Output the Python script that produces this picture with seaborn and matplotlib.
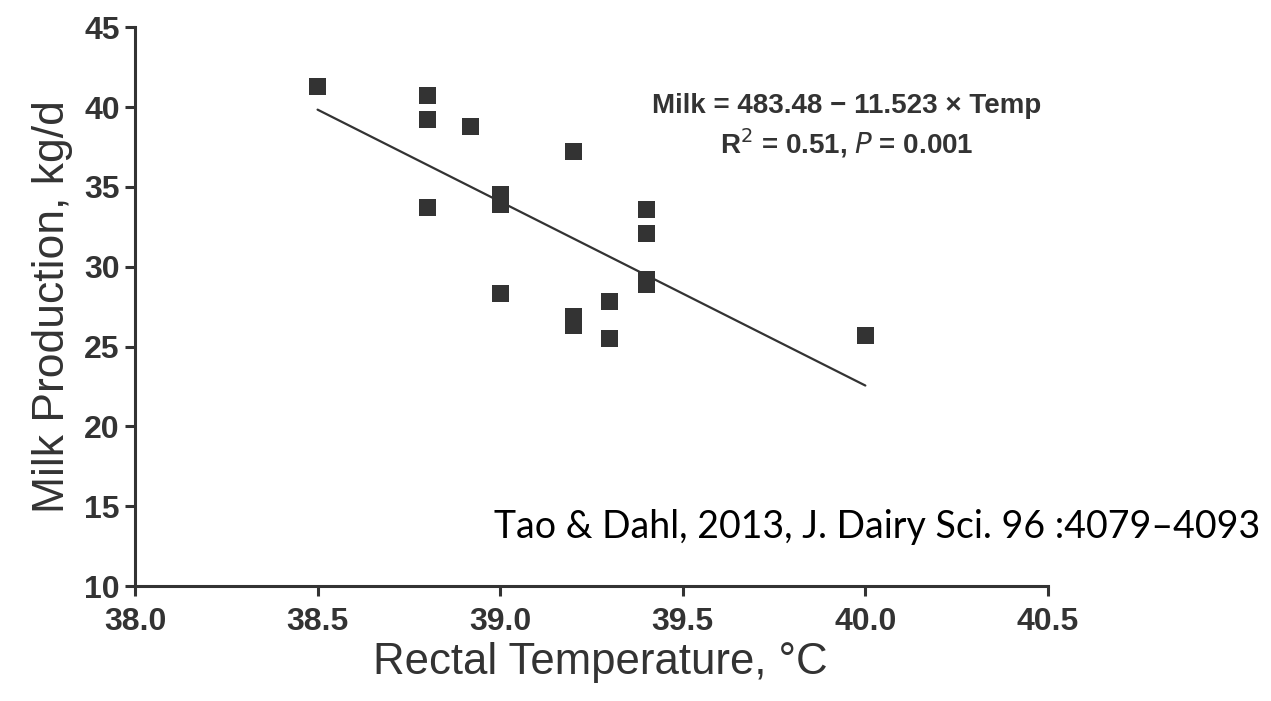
import numpy as np
import pandas as pd
import matplotlib
matplotlib.use("Agg")
import matplotlib.pyplot as plt
import seaborn as sns

# datos
rectal_temp = [38.5, 38.8, 38.8, 38.8, 38.92, 39.0, 39.0, 39.0, 39.2, 39.2,
               39.2, 39.3, 39.3, 39.4, 39.4, 39.4, 39.4, 40.0]
milk_prod = [41.3, 40.7, 39.2, 33.7, 38.8, 34.5, 33.9, 28.3, 37.2, 26.9,
             26.3, 27.8, 25.5, 33.6, 32.1, 29.2, 28.9, 25.7]

# recta de regresion publicada
intercepto = 483.48
pendiente = -11.523

x_ticks = [38.0, 38.5, 39.0, 39.5, 40.0, 40.5]
y_ticks = [10, 15, 20, 25, 30, 35, 40, 45]

gris = "#333333"

sns.set_style("ticks")
plt.rcParams['font.family'] = ['Liberation Sans', 'DejaVu Sans']

df = pd.DataFrame({"temp": rectal_temp, "milk": milk_prod})
t_linea = np.array([min(rectal_temp), max(rectal_temp)])
linea = pd.DataFrame({"temp": t_linea, "milk": intercepto + pendiente * t_linea})

fig = plt.figure(figsize=(12.71, 7.01), dpi=100)
ax = fig.add_axes([0.1062, 0.164, 0.7183, 0.797])

sns.lineplot(data=linea, x="temp", y="milk", color=gris, linewidth=1.6, ax=ax)
sns.scatterplot(data=df, x="temp", y="milk", marker="s", s=150, color=gris,
                edgecolor="none", ax=ax, zorder=3)

ax.set_xlim(38.0, 40.5)
ax.set_ylim(10, 45)
ax.set_xticks(x_ticks)
ax.set_xticklabels([f"{t:.1f}" for t in x_ticks])
ax.set_yticks(y_ticks)
ax.tick_params(axis="both", labelsize=23, colors=gris, width=2.2, length=7,
               direction="out", pad=4)
ax.tick_params(axis="x", pad=8)
for lab in ax.get_xticklabels() + ax.get_yticklabels():
    lab.set_fontweight("bold")
    lab.set_color(gris)

sns.despine(ax=ax)
for lado in ["left", "bottom"]:
    ax.spines[lado].set_linewidth(2.2)
    ax.spines[lado].set_color(gris)

ax.set_xlabel("Rectal Temperature, °C", fontsize=31.5, color=gris, labelpad=12)
ax.xaxis.set_label_coords(0.51, -0.10)
ax.xaxis.label.set_va("top")
ax.set_ylabel("Milk Production, kg/d", fontsize=32, color=gris, labelpad=8)

ax.text(39.95, 40.05, "Milk = 483.48 − 11.523 × Temp", fontsize=20,
        fontweight="bold", color=gris, ha="center", va="center")
ax.text(39.95, 37.75, "R$^2$ = 0.51, $\\it{P}$ = 0.001", fontsize=20,
        fontweight="bold", color=gris, ha="center", va="center")

fig.text(0.690, 0.2325, "Tao & Dahl, 2013, J. Dairy Sci. 96 :4079–4093",
         fontsize=27, color="black", ha="center", va="baseline",
         family=["Lato", "DejaVu Sans"])

fig.savefig("out.png", dpi=100)
plt.close(fig)
